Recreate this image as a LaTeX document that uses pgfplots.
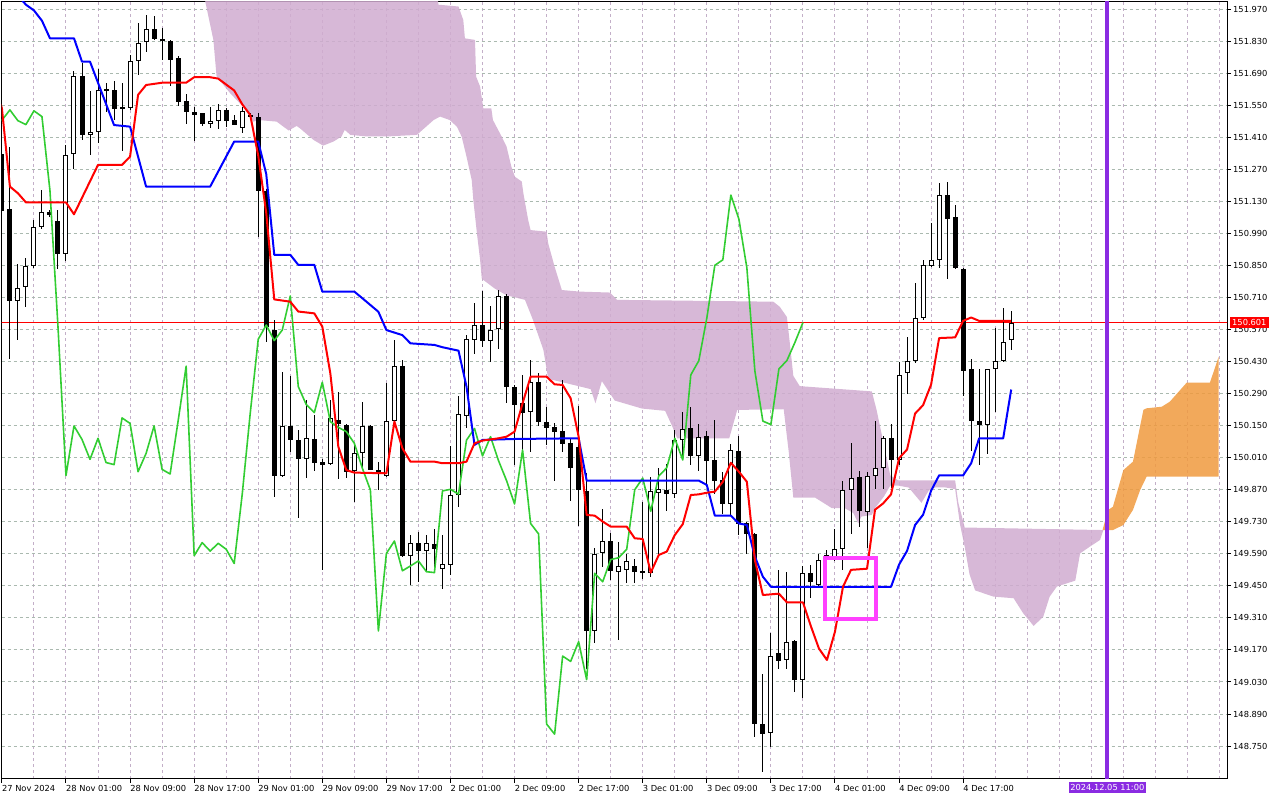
\documentclass[border=0pt]{standalone}
\usepackage{fontspec}
\setmainfont{DejaVu Sans}
\usepackage{pgfplots}
\usepackage{pgfplotstable}
\pgfplotsset{compat=1.18}

\definecolor{cloudpink}{RGB}{208,172,208}
\definecolor{cloudsand}{RGB}{240,154,62}
\definecolor{tenkan}{RGB}{255,0,0}
\definecolor{kijun}{RGB}{0,0,255}
\definecolor{chikou}{RGB}{50,205,50}
\definecolor{vline}{RGB}{138,43,226}
\definecolor{boxmag}{RGB}{255,64,255}
\definecolor{gridv}{RGB}{195,175,200}
\definecolor{gridh}{RGB}{170,185,175}

% hourly bars, k = hours since 28 Nov 01:00 (weekend skipped)
\pgfplotstableread{
k o h l c
-8 151.338 151.345 151.085 151.090
-7 151.097 151.370 150.440 150.697
-6 150.697 150.857 150.528 150.755
-5 150.755 150.882 150.668 150.848
-4 150.848 151.049 150.838 151.017
-3 151.017 151.183 151.011 151.083
-2 151.083 151.093 151.061 151.071
-1 151.045 151.093 150.834 150.899
0 150.903 151.376 150.870 151.336
1 151.336 151.702 151.272 151.677
2 151.677 151.734 151.399 151.422
3 151.422 151.613 151.335 151.437
4 151.437 151.709 151.384 151.620
5 151.620 151.647 151.523 151.615
6 151.617 151.658 151.486 151.536
7 151.542 151.649 151.352 151.536
8 151.539 151.770 151.530 151.747
9 151.747 151.913 151.683 151.826
10 151.826 151.945 151.785 151.883
11 151.883 151.942 151.839 151.842
12 151.842 151.891 151.749 151.830
13 151.832 151.839 151.636 151.750
14 151.756 151.766 151.549 151.564
15 151.569 151.599 151.469 151.520
16 151.521 151.545 151.396 151.511
17 151.515 151.518 151.460 151.470
18 151.472 151.542 151.450 151.485
19 151.485 151.556 151.448 151.530
20 151.530 151.539 151.457 151.483
21 151.486 151.508 151.464 151.466
22 151.450 151.545 151.428 151.526
23 151.507 151.515 151.498 151.501
24 151.502 151.515 150.976 151.177
25 151.176 151.188 150.517 150.583
26 150.571 150.612 149.840 149.932
27 149.932 150.386 149.927 150.149
28 150.150 150.367 150.036 150.090
29 150.090 150.131 149.749 150.003
30 150.003 150.265 149.920 150.095
31 150.095 150.197 149.953 149.989
32 149.991 150.007 149.519 149.980
33 149.983 150.265 149.980 150.184
34 150.178 150.297 149.917 150.160
35 150.152 150.157 149.920 149.949
36 149.951 150.066 149.818 150.029
37 150.029 150.252 149.956 150.149
38 150.149 150.152 149.956 149.959
39 149.959 149.993 149.869 149.939
40 149.930 150.338 149.927 150.171
41 150.171 150.525 150.153 150.410
42 150.410 150.437 149.578 149.582
43 149.582 149.675 149.454 149.639
44 149.639 149.687 149.468 149.602
45 149.602 149.672 149.512 149.636
46 149.636 149.701 149.512 149.610
47 149.526 149.675 149.439 149.548
48 149.544 150.061 149.497 149.850
49 149.850 150.280 149.796 150.204
50 150.194 150.547 150.139 150.528
51 150.525 150.685 150.466 150.590
52 150.590 150.740 150.495 150.522
53 150.519 150.673 150.430 150.568
54 150.571 150.746 150.488 150.717
55 150.717 150.726 150.248 150.321
56 150.321 150.328 149.978 150.242
57 150.248 150.372 150.036 150.207
58 150.211 150.437 150.036 150.340
59 150.340 150.379 150.149 150.168
60 150.168 150.233 150.066 150.143
61 150.143 150.163 149.910 150.124
62 150.127 150.350 150.037 150.073
63 150.073 150.095 149.822 149.964
64 150.058 150.236 149.713 149.869
65 149.865 149.945 149.089 149.253
66 149.254 149.614 149.202 149.592
67 149.592 149.786 149.531 149.646
68 149.646 149.682 149.478 149.516
69 149.513 149.643 149.213 149.537
70 149.522 149.592 149.464 149.559
71 149.537 149.566 149.464 149.512
72 149.516 149.818 149.483 149.508
73 149.508 149.924 149.490 149.865
74 149.857 149.964 149.589 149.872
75 149.869 149.985 149.779 149.851
76 149.851 150.131 149.837 150.087
77 150.087 150.211 150.000 150.138
78 150.138 150.230 149.978 150.018
79 150.018 150.157 149.953 150.102
80 150.105 150.128 149.884 149.997
81 150.000 150.178 149.854 149.910
82 149.913 149.949 149.767 149.808
83 149.808 150.073 149.755 150.044
84 150.040 150.105 149.672 149.723
85 149.723 149.730 149.589 149.677
86 149.677 149.682 148.791 148.846
87 148.849 149.065 148.638 148.802
88 148.808 149.245 148.747 149.143
89 149.156 149.520 149.086 149.120
90 149.126 149.510 149.086 149.206
91 149.210 149.215 148.985 149.040
92 149.040 149.535 148.961 149.505
93 149.505 149.543 149.400 149.468
94 149.456 149.591 149.445 149.565
95 149.585 149.606 149.560 149.573
96 149.573 149.700 149.558 149.610
97 149.610 149.910 149.520 149.870
98 149.870 150.076 149.678 149.921
99 149.925 149.951 149.708 149.776
100 149.773 149.948 149.618 149.930
101 149.933 150.170 149.873 149.966
102 149.966 150.106 149.873 150.095
103 150.095 150.158 149.876 150.000
104 150.000 150.431 149.978 150.372
105 150.380 150.540 150.290 150.434
106 150.432 150.776 150.425 150.620
107 150.620 150.875 150.612 150.851
108 150.851 151.035 150.845 150.875
109 150.875 151.211 150.840 151.158
110 151.158 151.216 150.791 151.054
111 151.063 151.115 150.836 150.840
112 150.836 150.840 150.281 150.389
113 150.398 150.440 150.041 150.170
114 150.173 150.401 149.981 150.155
115 150.155 150.401 150.026 150.398
116 150.398 150.578 150.210 150.435
117 150.432 150.665 150.428 150.514
118 150.523 150.653 150.481 150.601
}\candles

\begin{document}
\begin{tikzpicture}
\useasboundingbox (0bp,0bp) rectangle (1280bp,800bp);
\begin{axis}[
  at={(1.5bp,21bp)}, anchor=south west,
  scale only axis, width=1225.5bp, height=777.5bp,
  xmin=-8.05, xmax=144.94, ymin=148.606, ymax=152.004,
  axis line style={black, line width=1bp},
  tick style={black, line width=1bp},
  major tick length=4bp, minor tick length=0bp,
  tick align=outside,
  xtick pos=left, ytick pos=right,
  xticklabel pos=left, yticklabel pos=right,
  tick label style={font=\fontsize{8.3bp}{10bp}\selectfont},
  xticklabel style={anchor=north west, inner sep=0pt, yshift=-2bp},
  yticklabel style={anchor=west, inner sep=0pt, xshift=2bp},
  xtick={-8,0,8,16,24,32,40,48,56,64,72,80,88,96,104,112},
  xticklabels={27 Nov 2024, 28 Nov 01:00, 28 Nov 09:00, 28 Nov 17:00,
    29 Nov 01:00, 29 Nov 09:00, 29 Nov 17:00, 2 Dec 01:00, 2 Dec 09:00,
    2 Dec 17:00, 3 Dec 01:00, 3 Dec 09:00, 3 Dec 17:00, 4 Dec 01:00,
    4 Dec 09:00, 4 Dec 17:00},
  minor xtick={-4,4,12,20,28,36,44,52,60,68,76,84,92,100,108,116,120,124,128,132,136,140,144},
  ytick={148.750,148.890,149.030,149.170,149.310,149.450,149.590,149.730,
    149.870,150.010,150.150,150.290,150.430,150.570,150.710,150.850,
    150.990,151.130,151.270,151.410,151.550,151.690,151.830,151.970},
  yticklabels={148.750,148.890,149.030,149.170,149.310,149.450,149.590,149.730,
    149.870,150.010,150.150,150.290,150.430,150.570,150.710,150.850,
    150.990,151.130,151.270,151.410,151.550,151.690,151.830,151.970},
  xmajorgrids, xminorgrids, ymajorgrids,
  grid style={dash pattern=on 3bp off 3bp, line width=1bp},
  x grid style={gridv}, y grid style={gridh},
  minor grid style={gridv, dash pattern=on 3bp off 3bp, line width=1bp},
]

% Kumo: bearish (thistle) part
\addplot[draw=none, fill=cloudpink, fill opacity=0.85] coordinates {
(17.0,152.3)(45.5,152.3)(46.5,151.99)(49.0,151.982)(49.6,151.923)(49.8,151.843)
(51.06,151.836)(51.2,151.676)(51.7,151.632)(52.1,151.537)(53.1,151.537)(53.3,151.486)
(54.4,151.413)(55.0,151.370)(55.6,151.282)(56.05,151.238)(56.9,151.217)(57.1,151.166)
(57.7,151.049)(58.0,151.005)(60.0,150.998)(60.2,150.947)(61.0,150.845)(61.9,150.743)
(64.2,150.736)(67.9,150.732)(68.8,150.700)(88.3,150.692)(89.1,150.670)
(90.0,150.625)(90.4,150.500)(90.8,150.368)(91.6,150.323)(100.6,150.300)(101.2,150.218)
(102.1,150.068)(102.9,149.933)(103.9,149.911)(111.0,149.911)(111.4,149.813)(112.2,149.705)
(129.5,149.694)
(129.1,149.651)(127.8,149.621)(126.6,149.592)(126.0,149.473)(123.7,149.447)(122.8,149.403)
(122.0,149.315)(120.8,149.275)(119.5,149.330)(118.3,149.396)(115.8,149.403)(113.5,149.430)
(112.8,149.500)(112.2,149.620)(111.6,149.720)(111.0,149.873)(109.8,149.880)(108.5,149.880)
(107.7,149.866)(106.8,149.813)(105.2,149.880)(103.9,149.888)(102.9,149.888)(102.1,149.840)
(101.0,149.790)(100.6,149.760)(99.3,149.753)(98.9,149.723)(98.3,149.768)(97.2,149.790)
(95.6,149.790)(93.5,149.836)(90.8,149.836)(90.2,150.044)(90.0,150.102)(89.6,150.222)
(83.8,150.219)(82.8,150.095)(76.3,150.095)(75.7,150.146)(74.8,150.215)(71.9,150.225)
(68.5,150.260)(66.9,150.345)(66.1,150.248)(65.5,150.310)(60.2,150.355)(59.6,150.481)
(58.3,150.612)(57.3,150.700)(55.0,150.720)(53.5,150.750)(52.1,150.787)(51.9,150.794)
(51.7,150.874)(51.3,150.991)(50.85,151.137)(50.65,151.224)(50.0,151.326)(49.4,151.413)
(48.8,151.457)(47.9,151.486)(46.7,151.501)(45.9,151.486)(43.8,151.421)(40.0,151.414)
(37.6,151.414)(35.5,151.421)(34.8,151.443)(34.4,151.414)(33.4,151.392)(32.1,151.374)
(30.9,151.399)(29.2,151.450)(28.8,151.460)(27.8,151.440)(26.3,151.479)(24.0,151.486)
(23.4,151.479)(22.1,151.544)(20.5,151.603)(18.8,151.676)(18.4,151.836)(17.35,152.01)
} --cycle;

% Kumo: bullish (sandy brown) part
\addplot[draw=none, fill=cloudsand, fill opacity=0.85] coordinates {
(129.4,149.694)(130.1,149.782)(130.7,149.796)(132.0,149.956)(133.2,149.993)(134.5,150.219)
(134.9,150.226)(136.8,150.233)(137.8,150.255)(139.9,150.338)(142.8,150.338)(143.2,150.379)
(143.9,150.452)(143.9,149.927)(134.9,149.927)(134.1,149.869)(133.2,149.782)(132.0,149.716)
(130.7,149.694)
} --cycle;

% last price line
\addplot[red, line width=1bp] coordinates {(-9,150.601)(146,150.601)};

% wicks
\addplot[draw=none, mark=none,
  error bars/.cd, y dir=both, y explicit, error mark=none,
  error bar style={draw=black, line width=1bp}]
  table[x=k, y expr={(\thisrow{h}+\thisrow{l})/2},
        y error expr={(\thisrow{h}-\thisrow{l})/2}] {\candles};
% bodies
\addplot[draw=none, mark=none,
  error bars/.cd, y dir=both, y explicit, error mark=none,
  error bar style={draw=black, line width=5bp}]
  table[x=k, y expr={(\thisrow{o}+\thisrow{c})/2},
        y error expr={max(abs(\thisrow{c}-\thisrow{o})/2,0.0022)}] {\candles};
% hollow inside of rising bars
\addplot[draw=none, mark=none,
  restrict expr to domain={\thisrow{c}-\thisrow{o}}{0.0089:10},
  error bars/.cd, y dir=both, y explicit, error mark=none,
  error bar style={draw=white, line width=3bp}]
  table[x=k, y expr={(\thisrow{o}+\thisrow{c})/2},
        y error expr={(\thisrow{c}-\thisrow{o})/2-0.0044}] {\candles};

% Chikou span: close drawn 26 bars back
\addplot[chikou, line width=1.6bp, line join=round] table[x expr=\thisrow{k}-26, y=c] {\candles};

% Kijun-sen
\addplot[kijun, line width=2bp, line join=round] coordinates {
(-6,152.03)(-5,151.99)(-4,151.965)(-3,151.92)(-2,151.843)(1,151.843)(2,151.741)(3,151.741)
(6,151.464)(8,151.457)(10,151.195)(18,151.195)(21,151.392)(24,151.392)(25,151.250)
(26,150.897)(28,150.897)(29,150.853)(31,150.853)(32,150.736)(36,150.736)(37,150.707)
(39,150.648)(40,150.568)(42,150.546)(43,150.510)(46,150.503)(47,150.493)(49,150.478)
(50,150.321)(51,150.066)(52,150.088)(56,150.092)(64,150.095)(65,149.910)(79,149.910)
(80,149.891)(81,149.757)(83,149.757)(84,149.723)(85,149.716)(86,149.578)(87,149.490)
(88,149.446)(103,149.446)(104,149.543)(105,149.603)(106,149.716)(107,149.761)(108,149.866)
(109,149.933)(112,149.933)(113,149.986)(114,150.095)(117,150.095)(118,150.308)
};

% Tenkan-sen
\addplot[tenkan, line width=2bp, line join=round] coordinates {
(-8.2,151.56)(-8,151.537)(-7,151.195)(-6,151.166)(-5,151.126)(0,151.126)(1,151.074)
(4,151.290)(7,151.290)(8,151.326)(9,151.596)(10,151.639)(12,151.649)(15,151.649)
(16,151.673)(18,151.673)(19,151.667)(21,151.615)(22,151.555)(23,151.508)(24,151.330)
(25,151.080)(26,150.702)(27,150.697)(28,150.692)(29,150.649)(31,150.641)(32,150.583)
(33,150.379)(34,150.058)(35,149.956)(36,149.945)(40,149.942)(41,150.168)(42,150.051)
(43,149.993)(46,149.993)(47,149.986)(49,149.986)(50,149.993)(51,150.073)(52,150.085)
(54,150.095)(55,150.102)(56,150.124)(57,150.248)(58,150.364)(60,150.364)(61,150.331)
(62,150.328)(63,150.270)(64,150.102)(65,149.760)(66,149.757)(67,149.731)(68,149.709)
(70,149.709)(71,149.658)(72,149.655)(73,149.508)(74,149.585)(75,149.600)(76,149.672)
(77,149.720)(78,149.847)(79,149.850)(80,149.857)(81,149.862)(82,149.905)(83,149.988)
(84,149.949)(85,149.905)(86,149.563)(87,149.410)(89,149.416)(90,149.378)(92,149.378)
(93,149.273)(94,149.176)(95,149.126)(96,149.250)(97,149.446)(98,149.520)(100,149.525)
(101,149.783)(102,149.810)(103,149.850)(104,150.008)(105,150.046)(106,150.203)
(107,150.240)(108,150.330)(109,150.533)(111,150.536)(112,150.608)(113,150.623)
(114,150.608)(118,150.608)
};

% current time marker
\addplot[vline, line width=4bp] coordinates {(130,148.0)(130,153.0)};

% highlight box
\addplot[boxmag, line width=4bp] coordinates {
(94.7,149.570)(101.1,149.570)(101.1,149.307)(94.7,149.307)} --cycle;

\coordinate (pricelab) at (axis cs:144.94,150.601);
\coordinate (timelab) at (axis cs:130,148.606);
\end{axis}
\node[fill=red, text=white, anchor=west, inner xsep=2bp, inner ysep=2bp,
  font=\fontsize{8.3bp}{10bp}\selectfont] at ([xshift=3bp]pricelab) {150.601};
\node[fill=vline, text=white, anchor=north, inner xsep=1.5bp, inner ysep=2.5bp,
  font=\fontsize{8.3bp}{10bp}\selectfont] at ([yshift=-3bp]timelab) {2024.12.05 11:00};
\end{tikzpicture}
\end{document}
